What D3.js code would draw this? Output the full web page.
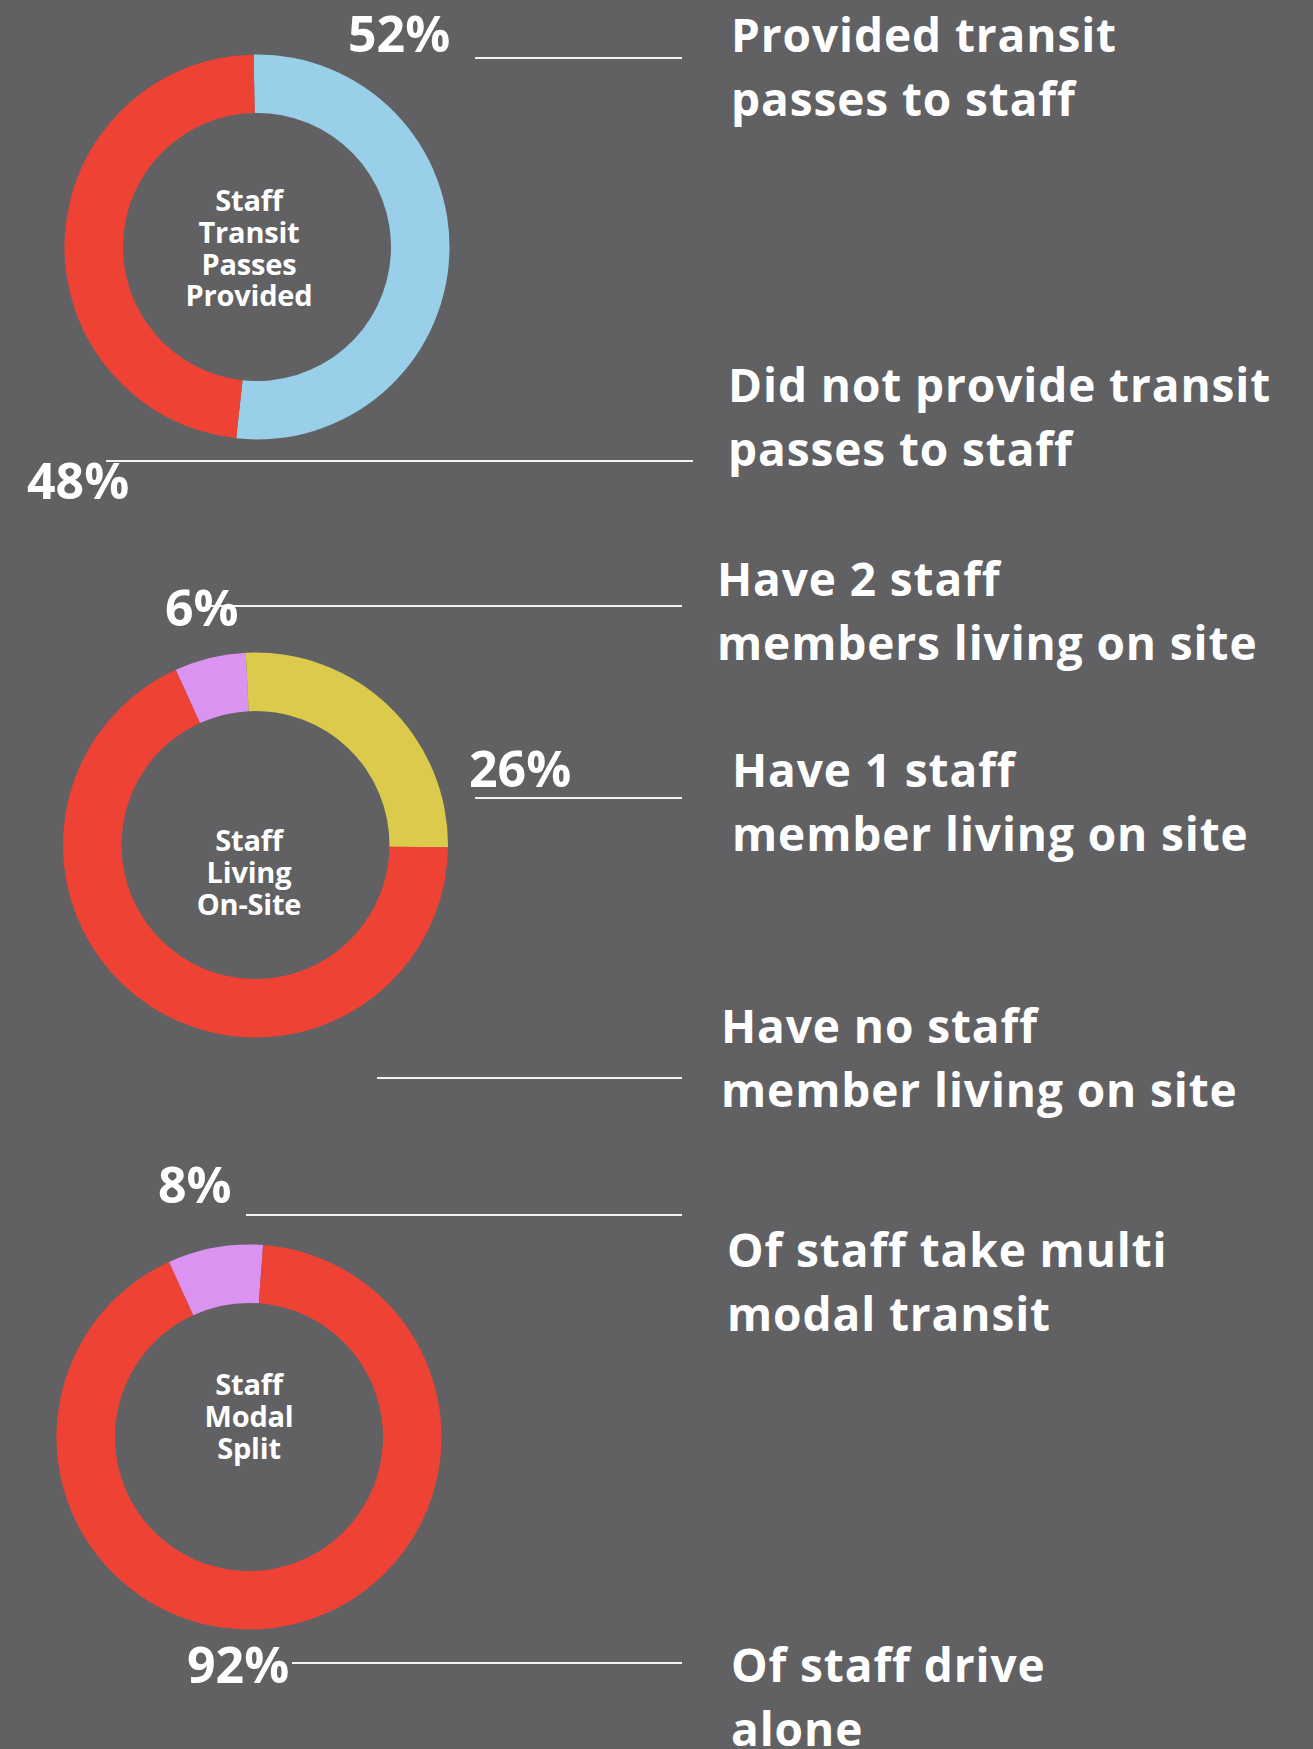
<!DOCTYPE html>
<html>
<head>
<meta charset="utf-8">
<script src="https://cdn.jsdelivr.net/npm/d3@7"></script>
<style>
  html, body { margin: 0; padding: 0; background: #616163; }
  svg text { font-family: "Open Sans", Lato, sans-serif; font-weight: 700; fill: #ffffff; }
</style>
</head>
<body>
<div id="chart"></div>
<script>
// values
const transitCategories = ["Provided transit passes to staff", "Did not provide transit passes to staff"];
const transitValues = [52, 48];

const livingCategories = ["Have 2 staff members living on site", "Have 1 staff member living on site", "Have no staff member living on site"];
const livingValues = [6, 26, 68];

const modalCategories = ["Of staff take multi modal transit", "Of staff drive alone"];
const modalValues = [8, 92];

const centerTitles = [
    ["Staff", "Transit", "Passes", "Provided"],
    ["Staff", "Living", "On-Site"],
    ["Staff", "Modal", "Split"]
];

// the category labels wrap onto two lines in the picture
const labelLines = [
    [["Provided transit", "passes to staff"], ["Did not provide transit", "passes to staff"]],
    [["Have 2 staff", "members living on site"], ["Have 1 staff", "member living on site"], ["Have no staff", "member living on site"]],
    [["Of staff take multi", "modal transit"], ["Of staff drive", "alone"]]
];

const width = 1313, height = 1749;
const deg = Math.PI / 180;

// layout of each panel (positions only)
const panels = [
    {
        values: transitValues, categories: transitCategories,
        colors: ["#9acfe9", "#ee4334"],
        cx: 257, cy: 247, start: -1,
        titleY: 211,
        notes: [
            {pctX: 348, pctY: 52, lineX1: 475, lineX2: 682, lineY: 58, textX: 731, textY: 52},
            {pctX: 27, pctY: 499, lineX1: 106, lineX2: 693, lineY: 461, textX: 728, textY: 402}
        ]
    },
    {
        values: livingValues, categories: livingCategories,
        colors: ["#db93f1", "#dbca4b", "#ee4334"],
        cx: 255.5, cy: 845, start: -24.5,
        titleY: 851,
        notes: [
            {pctX: 165, pctY: 626, lineX1: 207, lineX2: 682, lineY: 606, textX: 717, textY: 596},
            {pctX: 469, pctY: 787, lineX1: 475, lineX2: 682, lineY: 798, textX: 732, textY: 787},
            {hidePct: true, lineX1: 377, lineX2: 682, lineY: 1078, textX: 721, textY: 1043}
        ]
    },
    {
        values: modalValues, categories: modalCategories,
        colors: ["#db93f1", "#ee4334"],
        cx: 249, cy: 1437, start: -24.6,
        titleY: 1395,
        notes: [
            {pctX: 158, pctY: 1203, lineX1: 246, lineX2: 682, lineY: 1215, textX: 727, textY: 1267},
            {pctX: 187, pctY: 1683, lineX1: 292, lineX2: 682, lineY: 1663, textX: 731, textY: 1682}
        ]
    }
];

const svg = d3.select("#chart")
    .append("svg")
    .attr("width", width)
    .attr("height", height);

svg.append("rect")
    .attr("width", width)
    .attr("height", height)
    .attr("fill", "#616163");

const arc = d3.arc()
    .innerRadius(134)
    .outerRadius(192.5);

panels.forEach((p, i) => {
    const pie = d3.pie()
        .sort(null)
        .value(d => d)
        .startAngle(p.start * deg)
        .endAngle(p.start * deg + 2 * Math.PI);

    const g = svg.append("g")
        .attr("transform", `translate(${p.cx}, ${p.cy})`);

    g.selectAll("path")
        .data(pie(p.values))
        .join("path")
        .attr("d", arc)
        .attr("fill", (d, j) => p.colors[j]);

    // title in the hole
    const title = svg.append("text")
        .attr("text-anchor", "middle")
        .attr("font-size", 29)
        .attr("letter-spacing", -0.2)
        .attr("y", p.titleY);
    title.selectAll("tspan")
        .data(centerTitles[i])
        .join("tspan")
        .attr("x", 249)
        .attr("dy", (d, j) => j === 0 ? 0 : 31.8)
        .text(d => d);

    // annotations
    p.notes.forEach((n, j) => {
        svg.append("line")
            .attr("x1", n.lineX1)
            .attr("x2", n.lineX2)
            .attr("y1", n.lineY)
            .attr("y2", n.lineY)
            .attr("stroke", "#f4f4f4")
            .attr("stroke-width", 2.2);

        if (!n.hidePct) {
            svg.append("text")
                .attr("x", n.pctX)
                .attr("y", n.pctY)
                .attr("font-size", 50)
                .text(p.values[j] + "%");
        }

        const t = svg.append("text")
            .attr("y", n.textY)
            .attr("font-size", 46)
            .attr("letter-spacing", 0.9);
        t.selectAll("tspan")
            .data(labelLines[i][j])
            .join("tspan")
            .attr("x", n.textX)
            .attr("dy", (d, k) => k === 0 ? 0 : 63.5)
            .text(d => d);
    });
});
</script>
</body>
</html>
